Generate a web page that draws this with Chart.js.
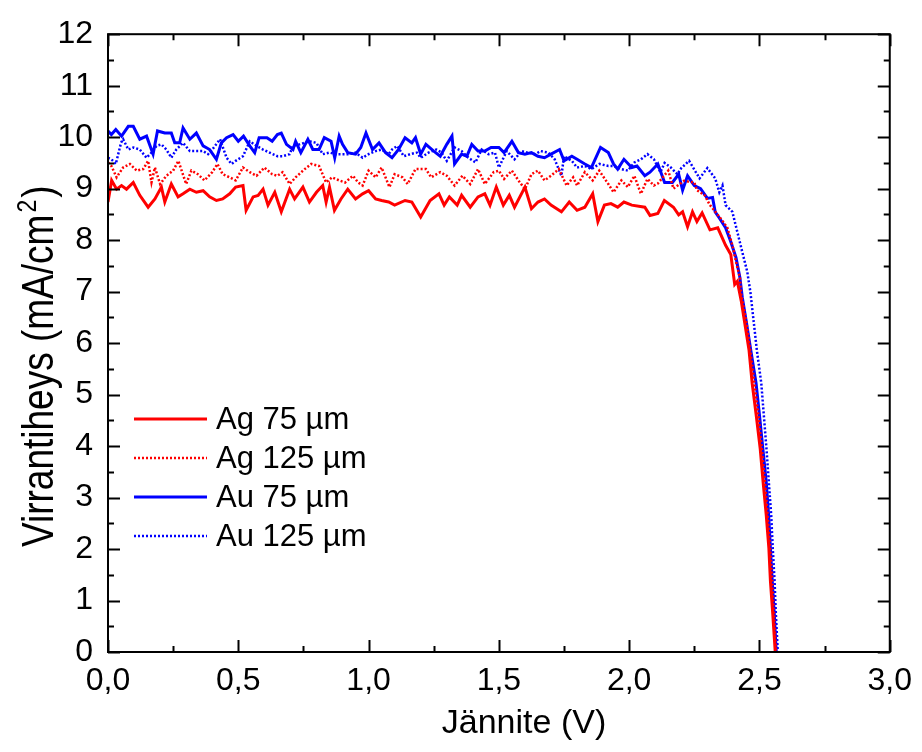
<!DOCTYPE html>
<html>
<head>
<meta charset="utf-8">
<script src="https://cdn.jsdelivr.net/npm/chart.js@4.4.1/dist/chart.umd.min.js"></script>
<style>
  html, body { margin: 0; padding: 0; background: #fff; }
  #wrap { width: 922px; height: 752px; }
</style>
</head>
<body>
<div id="wrap"><canvas id="chart" width="922" height="752"></canvas></div>
<script>
// ── Data ─────────────────────────────────────────────────────────────────

const agV75 = [0,0.014,0.033,0.052,0.071,0.097,0.122,0.154,0.18,0.205,0.218,0.243,0.269,0.288,0.314,0.339,0.365,0.39,0.416,0.44,0.467,0.49,0.518,0.53,0.557,0.576,0.595,0.614,0.64,0.665,0.697,0.716,0.748,0.773,0.8,0.824,0.837,0.85,0.869,0.894,0.92,0.95,0.977,1.0,1.027,1.05,1.077,1.1,1.14,1.166,1.2,1.236,1.27,1.29,1.31,1.34,1.357,1.39,1.42,1.446,1.466,1.49,1.517,1.54,1.56,1.6,1.625,1.65,1.675,1.7,1.74,1.77,1.8,1.83,1.86,1.88,1.905,1.93,1.956,1.98,2.01,2.06,2.08,2.11,2.135,2.17,2.19,2.205,2.224,2.243,2.26,2.28,2.31,2.34,2.37,2.39,2.405,2.415,2.43,2.44,2.46,2.472,2.488,2.503,2.514,2.526,2.536,2.542,2.551,2.56,2.565];
const agJ75 = [8.74,9.16,8.99,9.06,8.99,9.12,8.87,8.64,8.8,9.03,8.74,9.09,8.84,8.9,8.99,8.93,8.96,8.84,8.77,8.8,8.9,9.03,9.06,8.58,8.84,8.87,8.99,8.68,8.93,8.55,8.99,8.8,9.03,8.74,8.93,9.06,8.74,9.03,8.58,8.8,8.99,8.8,8.9,8.96,8.8,8.77,8.74,8.68,8.77,8.74,8.45,8.77,8.9,8.68,8.84,8.68,8.87,8.64,8.84,8.9,8.68,9.03,8.68,8.87,8.64,9.03,8.61,8.74,8.8,8.68,8.55,8.74,8.58,8.64,8.9,8.36,8.68,8.71,8.64,8.74,8.68,8.64,8.48,8.52,8.77,8.64,8.49,8.55,8.26,8.55,8.36,8.53,8.2,8.24,7.9,7.72,7.14,7.2,6.82,6.5,5.86,5.22,4.58,3.94,3.30,2.66,2.02,1.38,0.74,0.04,-0.5];

const agV125 = [0,0.013,0.033,0.058,0.084,0.11,0.135,0.154,0.167,0.18,0.2,0.224,0.25,0.27,0.3,0.32,0.345,0.37,0.4,0.42,0.44,0.467,0.49,0.518,0.544,0.57,0.6,0.63,0.65,0.67,0.697,0.72,0.755,0.78,0.81,0.837,0.86,0.887,0.91,0.94,0.96,0.977,1.0,1.027,1.05,1.065,1.08,1.1,1.13,1.15,1.18,1.22,1.24,1.275,1.3,1.33,1.36,1.39,1.42,1.446,1.48,1.5,1.52,1.55,1.575,1.6,1.625,1.65,1.675,1.7,1.73,1.76,1.785,1.8,1.83,1.86,1.885,1.92,1.94,1.97,1.995,2.02,2.045,2.07,2.095,2.11,2.15,2.17,2.21,2.25,2.26,2.29,2.31,2.35,2.377,2.396,2.41,2.425,2.43,2.45,2.465,2.48,2.497,2.51,2.522,2.532,2.542,2.549,2.556,2.563,2.568];
const agJ125 = [9.51,9.44,9.22,9.41,9.48,9.35,9.38,9.54,9.12,9.41,9.09,9.25,9.35,9.54,9.09,9.35,9.28,9.16,9.32,9.48,9.28,9.22,9.16,9.41,9.32,9.25,9.41,9.28,9.25,9.32,9.09,9.22,9.38,9.48,9.44,9.12,9.22,9.16,9.12,9.25,9.12,9.06,9.35,9.22,9.41,9.22,9.03,9.28,9.22,9.09,9.38,9.38,9.22,9.32,9.25,9.06,9.25,9.09,9.38,9.09,9.32,9.35,9.19,9.35,9.16,8.99,9.28,9.35,9.16,9.25,9.38,9.06,9.22,9.06,9.32,9.16,9.35,9.09,8.93,9.16,9.03,9.25,8.9,9.19,9.06,9.1,9.35,9.0,9.15,9.12,8.97,8.87,8.68,8.43,8.24,7.9,7.58,7.27,6.95,6.4,5.85,5.25,4.55,3.9,3.25,2.6,1.95,1.35,0.7,0.05,-0.5];

const auV75 = [0,0.013,0.03,0.052,0.078,0.097,0.122,0.148,0.173,0.19,0.218,0.243,0.256,0.275,0.288,0.314,0.339,0.365,0.39,0.416,0.435,0.455,0.48,0.5,0.52,0.544,0.563,0.58,0.61,0.63,0.65,0.665,0.685,0.71,0.72,0.74,0.767,0.786,0.81,0.83,0.856,0.87,0.887,0.9,0.92,0.95,0.97,0.99,1.015,1.04,1.065,1.09,1.115,1.14,1.166,1.18,1.2,1.22,1.25,1.275,1.3,1.32,1.33,1.357,1.377,1.396,1.42,1.446,1.47,1.5,1.52,1.55,1.575,1.6,1.625,1.65,1.675,1.7,1.733,1.75,1.78,1.8,1.83,1.855,1.89,1.92,1.94,1.956,1.98,2.01,2.03,2.06,2.08,2.11,2.136,2.166,2.19,2.205,2.224,2.25,2.274,2.3,2.32,2.33,2.346,2.37,2.39,2.41,2.425,2.434,2.45,2.467,2.487,2.5,2.513,2.526,2.535,2.542,2.549,2.557,2.564,2.57];
const auJ75 = [10.12,10.05,10.15,10.02,10.21,10.21,9.96,10.02,9.67,10.12,10.08,10.08,9.89,9.89,10.18,9.96,10.08,9.83,9.76,9.57,9.89,9.99,10.05,9.92,10.02,9.83,9.7,9.99,9.99,9.92,10.05,10.08,9.86,9.76,9.92,9.7,9.96,9.76,9.76,9.99,9.92,9.6,10.02,9.86,9.7,9.67,9.8,10.08,9.76,9.89,9.7,9.6,9.76,9.99,9.89,9.99,9.67,9.86,9.73,9.63,9.86,10.02,9.48,9.67,9.63,9.86,9.73,9.73,9.8,9.8,9.7,9.92,9.7,9.67,9.7,9.63,9.6,9.67,9.76,9.54,9.63,9.57,9.48,9.41,9.8,9.7,9.48,9.38,9.57,9.41,9.44,9.25,9.32,9.48,9.12,9.12,9.28,8.97,9.25,9.06,9.0,8.81,8.83,8.55,8.43,8.24,7.97,7.66,7.27,6.89,6.4,5.85,5.22,4.6,3.95,3.3,2.66,2.02,1.38,0.74,0.04,-0.5];

const auV125 = [0,0.013,0.03,0.05,0.058,0.078,0.097,0.122,0.148,0.167,0.186,0.205,0.224,0.243,0.262,0.288,0.314,0.339,0.365,0.384,0.4,0.43,0.455,0.474,0.49,0.518,0.544,0.57,0.595,0.62,0.65,0.67,0.697,0.71,0.735,0.773,0.8,0.824,0.85,0.875,0.9,0.926,0.95,0.977,1.0,1.027,1.05,1.077,1.09,1.11,1.135,1.16,1.185,1.2,1.23,1.26,1.28,1.3,1.33,1.357,1.383,1.41,1.434,1.46,1.485,1.5,1.53,1.56,1.587,1.61,1.64,1.66,1.69,1.714,1.74,1.75,1.78,1.8,1.83,1.855,1.886,1.92,1.94,1.97,1.995,2.02,2.045,2.07,2.095,2.12,2.136,2.16,2.185,2.2,2.23,2.27,2.3,2.33,2.346,2.358,2.37,2.396,2.415,2.434,2.453,2.465,2.476,2.49,2.507,2.517,2.527,2.536,2.545,2.551,2.558,2.563,2.57,2.575];
const auJ125 = [9.6,9.57,9.48,9.89,9.96,9.76,9.8,9.76,9.6,9.7,9.83,9.86,9.76,9.6,9.76,9.89,9.73,9.73,9.73,9.67,9.76,9.96,9.6,9.48,9.54,9.63,9.92,9.83,9.76,9.7,9.63,9.63,9.67,9.83,9.86,9.92,9.89,9.67,9.7,9.67,9.67,9.67,9.7,9.6,9.67,9.73,9.76,9.67,9.76,9.83,9.63,9.67,9.7,9.6,9.7,9.76,9.7,9.54,9.8,9.73,9.6,9.51,9.76,9.67,9.7,9.41,9.73,9.57,9.73,9.7,9.67,9.73,9.7,9.57,9.25,9.63,9.54,9.41,9.44,9.38,9.48,9.44,9.44,9.38,9.35,9.51,9.57,9.67,9.57,9.32,9.5,9.41,9.28,9.4,9.54,9.2,9.4,9.2,8.93,9.06,8.68,8.55,8.16,7.77,7.39,7.0,6.5,5.86,5.22,4.58,3.94,3.3,2.66,2.02,1.38,0.74,0.04,-0.5];

const seriesLabels = ['Ag 75 µm', 'Ag 125 µm', 'Au 75 µm', 'Au 125 µm'];

const xTickValues = [0, 0.5, 1, 1.5, 2, 2.5, 3];
const xMinorValues = [0.25, 0.75, 1.25, 1.75, 2.25, 2.75];
const yTickValues = [0, 1, 2, 3, 4, 5, 6, 7, 8, 9, 10, 11, 12];
const yMinorValues = [0.5, 1.5, 2.5, 3.5, 4.5, 5.5, 6.5, 7.5, 8.5, 9.5, 10.5, 11.5];

const xTitle = 'Jännite (V)';
const yTitle = ['Virrantiheys (mA/cm', '2', ')'];

// ── Helpers ──────────────────────────────────────────────────────────────

const FONT = "'Liberation Sans', Arial, sans-serif";
const RED = '#ff0000';
const BLUE = '#0000ff';

function pairs(xs, ys) {
  return xs.map((v, i) => ({ x: v, y: ys[i] }));
}

function lineSet(label, xs, ys, color, dotted) {
  return {
    label,
    data: pairs(xs, ys),
    borderColor: color,
    borderWidth: dotted ? 2.5 : 3,
    borderDash: dotted ? [2, 2] : [],
    pointRadius: 0,
    tension: 0,
    fill: false,
    clip: 0,
  };
}

// frame round the plot + inward ticks on all four sides
const frameTicks = {
  id: 'frameTicks',
  afterDraw(chart) {
    const { ctx, chartArea: a, scales: { x, y } } = chart;
    const major = 12, minor = 6;
    ctx.save();
    ctx.strokeStyle = '#000';
    ctx.lineWidth = 2;
    ctx.strokeRect(a.left, a.top, a.right - a.left, a.bottom - a.top);
    ctx.beginPath();
    const xt = (vals, len) => vals.forEach(v => {
      const px = Math.round(x.getPixelForValue(v)) + 0.5;
      ctx.moveTo(px, a.bottom); ctx.lineTo(px, a.bottom - len);
      ctx.moveTo(px, a.top);    ctx.lineTo(px, a.top + len);
    });
    const yt = (vals, len) => vals.forEach(v => {
      const py = Math.round(y.getPixelForValue(v)) + 0.5;
      ctx.moveTo(a.left, py);  ctx.lineTo(a.left + len, py);
      ctx.moveTo(a.right, py); ctx.lineTo(a.right - len, py);
    });
    xt(xTickValues, major); xt(xMinorValues, minor);
    yt(yTickValues, major); yt(yMinorValues, minor);
    ctx.stroke();
    ctx.restore();
  },
};

// axis titles, placed like the original (the y one is drawn a bit stretched)
const axisTitles = {
  id: 'axisTitles',
  afterDraw(chart) {
    const { ctx } = chart;
    ctx.save();
    ctx.fillStyle = '#000';
    ctx.textBaseline = 'alphabetic';
    ctx.font = `34px ${FONT}`;
    ctx.textAlign = 'center';
    ctx.fillText(xTitle, 524, 733);

    ctx.textAlign = 'left';
    ctx.translate(53, 547);
    ctx.rotate(-Math.PI / 2);
    ctx.scale(1, 1.2);
    ctx.font = `37px ${FONT}`;
    let w = ctx.measureText(yTitle[0]).width;
    ctx.fillText(yTitle[0], 0, 0);
    ctx.font = `23px ${FONT}`;
    ctx.fillText(yTitle[1], w + 2, -14);
    w += ctx.measureText(yTitle[1]).width + 4;
    ctx.font = `37px ${FONT}`;
    ctx.fillText(yTitle[2], w, 0);
    ctx.restore();
  },
};

// legend sitting inside the plot, left middle
const insideLegend = {
  id: 'insideLegend',
  afterDatasetsDraw(chart) {
    const { ctx } = chart;
    ctx.save();
    ctx.font = `31px ${FONT}`;
    ctx.textBaseline = 'middle';
    ctx.fillStyle = '#000';
    chart.data.datasets.forEach((ds, i) => {
      const yy = 419 + i * 39;
      ctx.beginPath();
      ctx.strokeStyle = ds.borderColor;
      ctx.lineWidth = ds.borderWidth;
      ctx.setLineDash(ds.borderDash);
      ctx.moveTo(134, yy); ctx.lineTo(207, yy);
      ctx.stroke();
      ctx.setLineDash([]);
      ctx.fillText(ds.label, 216, yy + 1);
    });
    ctx.restore();
  },
};

// ── Chart ────────────────────────────────────────────────────────────────

new Chart(document.getElementById('chart'), {
  type: 'line',
  data: {
    datasets: [
      lineSet(seriesLabels[0], agV75,  agJ75,  RED,  false),
      lineSet(seriesLabels[1], agV125, agJ125, RED,  true),
      lineSet(seriesLabels[2], auV75,  auJ75,  BLUE, false),
      lineSet(seriesLabels[3], auV125, auJ125, BLUE, true),
    ],
  },
  options: {
    responsive: false,
    animation: false,
    layout: { padding: { top: 27, right: 29, left: 0, bottom: 0 } },
    plugins: { legend: { display: false }, tooltip: { enabled: false } },
    scales: {
      x: {
        type: 'linear',
        min: 0, max: 3,
        afterBuildTicks: s => { s.ticks = xTickValues.map(v => ({ value: v })); },
        afterFit: s => { s.height = 100; },
        grid: { display: false, drawTicks: false },
        border: { display: false },
        ticks: {
          color: '#000',
          font: { family: FONT, size: 32 },
          padding: 10,
          maxRotation: 0,
          callback: v => v.toFixed(1).replace('.', ','),
        },
      },
      y: {
        type: 'linear',
        min: 0, max: 12,
        afterBuildTicks: s => { s.ticks = yTickValues.map(v => ({ value: v })); },
        afterFit: s => { s.width = 108; },
        grid: { display: false, drawTicks: false },
        border: { display: false },
        ticks: {
          color: '#000',
          font: { family: FONT, size: 32 },
          padding: 15,
        },
      },
    },
  },
  plugins: [frameTicks, axisTitles, insideLegend],
});
</script>
</body>
</html>
